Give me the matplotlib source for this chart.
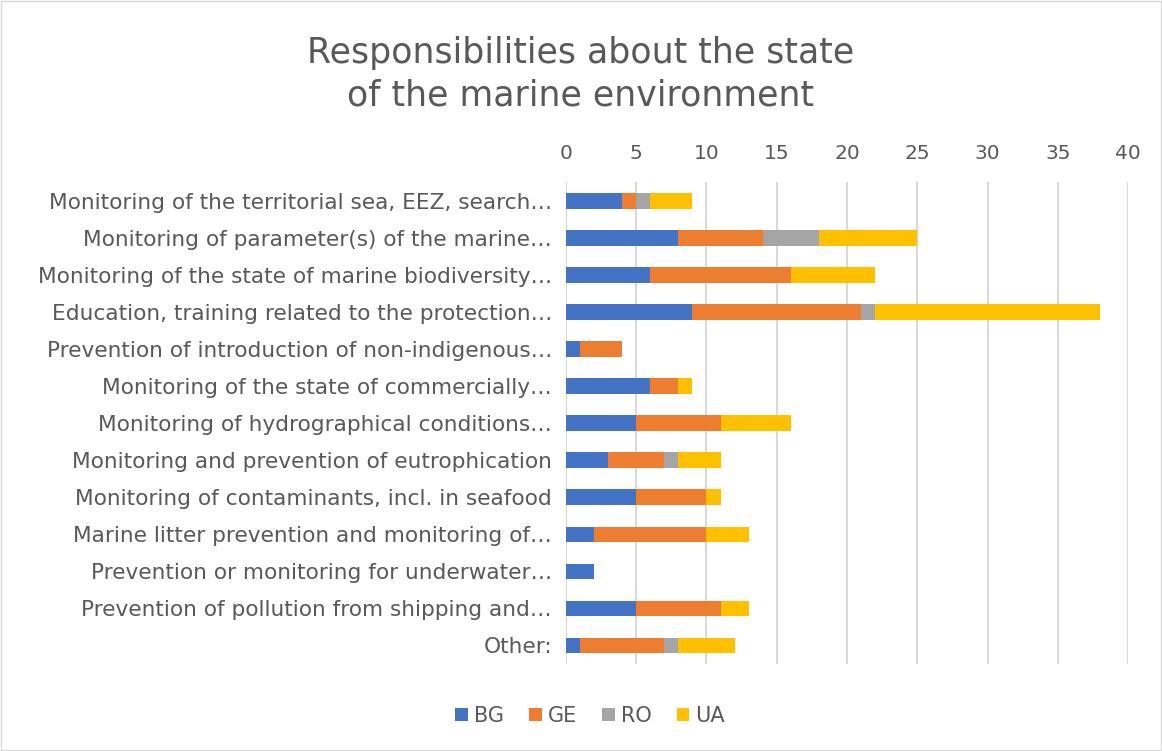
import matplotlib.pyplot as plt
import numpy as np
from matplotlib.patches import Rectangle

# categories, top to bottom as in the chart
categories = [
    "Monitoring of the territorial sea, EEZ, search\u2026",
    "Monitoring of parameter(s) of the marine\u2026",
    "Monitoring of the state of marine biodiversity\u2026",
    "Education, training related to the protection\u2026",
    "Prevention of introduction of non-indigenous\u2026",
    "Monitoring of the state of commercially\u2026",
    "Monitoring of hydrographical conditions\u2026",
    "Monitoring and prevention of eutrophication",
    "Monitoring of contaminants, incl. in seafood",
    "Marine litter prevention and monitoring of\u2026",
    "Prevention or monitoring for underwater\u2026",
    "Prevention of pollution from shipping and\u2026",
    "Other:",
]
BG = [4, 8, 6, 9, 1, 6, 5, 3, 5, 2, 2, 5, 1]
GE = [1, 6, 10, 12, 3, 2, 6, 4, 5, 8, 0, 6, 6]
RO = [1, 4, 0, 1, 0, 0, 0, 1, 0, 0, 0, 0, 1]
UA = [3, 7, 6, 16, 0, 1, 5, 3, 1, 3, 0, 2, 4]

series = [("BG", BG, "#4472C4"), ("GE", GE, "#ED7D31"),
          ("RO", RO, "#A5A5A5"), ("UA", UA, "#FFC000")]

plt.rcParams['font.family'] = ['DejaVu Sans']
text_col = "#595959"

fig = plt.figure(figsize=(11.62, 7.51), dpi=100)
ax = fig.add_axes([0.487, 0.116, 0.484, 0.641])

y = np.arange(len(categories))
left = np.zeros(len(categories))
for name, vals, col in series:
    ax.barh(y, vals, left=left, height=0.42, color=col, label=name, zorder=3)
    left += np.array(vals)

ax.set_ylim(len(categories) - 0.5, -0.5)
ax.set_xlim(0, 40)
ax.set_xticks(range(0, 41, 5))
ax.xaxis.tick_top()
ax.set_yticks(y)
ax.set_yticklabels(categories, fontsize=15.6)
ax.tick_params(axis='both', length=0, colors=text_col)
ax.tick_params(axis='x', labelsize=14.5, pad=14)
ax.tick_params(axis='y', pad=10)
ax.grid(axis='x', color="#D9D9D9", linewidth=1.5, zorder=0)
for s in ax.spines.values():
    s.set_visible(False)

fig.suptitle("Responsibilities about the state\nof the marine environment",
             y=0.952, fontsize=25, color=text_col, linespacing=1.3)

ax.legend(loc='center', bbox_to_anchor=(0.508, 0.047), bbox_transform=fig.transFigure,
          ncol=4, frameon=False, fontsize=15, handlelength=0.6, handleheight=0.6,
          handletextpad=0.3, columnspacing=1.2, labelcolor=text_col)

fig.patches.append(Rectangle((0.001, 0.001), 0.998, 0.998, transform=fig.transFigure,
                             fill=False, edgecolor="#D9D9D9", linewidth=1))

fig.savefig("out.png", dpi=100)
